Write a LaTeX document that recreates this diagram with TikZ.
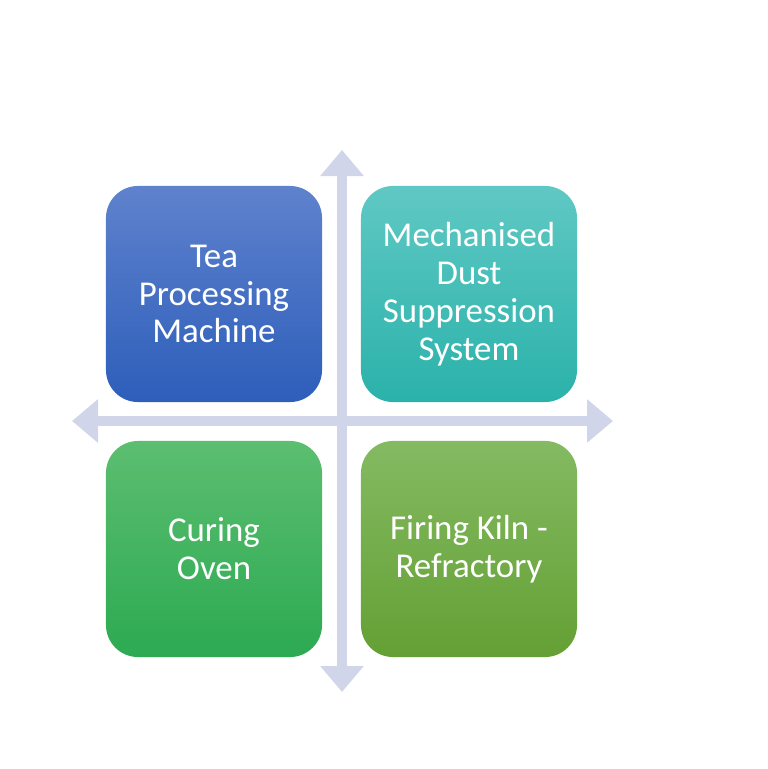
\documentclass[tikz,border=0pt]{standalone}
\usepackage{fontspec}
\setmainfont{Carlito}
\usetikzlibrary{arrows.meta}

\definecolor{axisgray}{RGB}{208,213,234}
\definecolor{teatop}{RGB}{95,130,205}
\definecolor{teabot}{RGB}{45,94,186}
\definecolor{dusttop}{RGB}{96,200,196}
\definecolor{dustbot}{RGB}{42,178,170}
\definecolor{oventop}{RGB}{92,190,112}
\definecolor{ovenbot}{RGB}{44,170,82}
\definecolor{kilntop}{RGB}{132,186,98}
\definecolor{kilnbot}{RGB}{100,160,52}

\tikzset{
  quad/.style={rounded corners=0.8cm, minimum width=5.4cm, minimum height=5.4cm,
    inner sep=0pt, align=center, text=white,
    font=\fontsize{24.8}{26.9}\selectfont},
  axis/.style={draw=axisgray, line width=0.27cm,
    {Triangle[width=1.05cm,length=0.65cm]}-{Triangle[width=1.05cm,length=0.65cm]}},
}

\begin{document}
\begin{tikzpicture}[x=0.025cm,y=-0.025cm]
\useasboundingbox (0,0) rectangle (768,769);

\coordinate (axisN) at (342,150);
\coordinate (axisS) at (342,692);
\coordinate (axisW) at (72,421);
\coordinate (axisE) at (613,421);
\draw[axis] (axisS) -- (axisN);
\draw[axis] (axisW) -- (axisE);

\node[quad, top color=teatop, bottom color=teabot] (tea) at (214,294) {Tea\\Processing\\Machine};
\node[quad, top color=dusttop, bottom color=dustbot] (dust) at (469,294) {Mechanised\\Dust\\Suppression\\System};
\node[quad, top color=oventop, bottom color=ovenbot] (oven) at (214,549) {Curing\\Oven};
\node[quad, top color=kilntop, bottom color=kilnbot] (kiln) at (469,549) {Firing Kiln -\\Refractory};
\end{tikzpicture}
\end{document}
